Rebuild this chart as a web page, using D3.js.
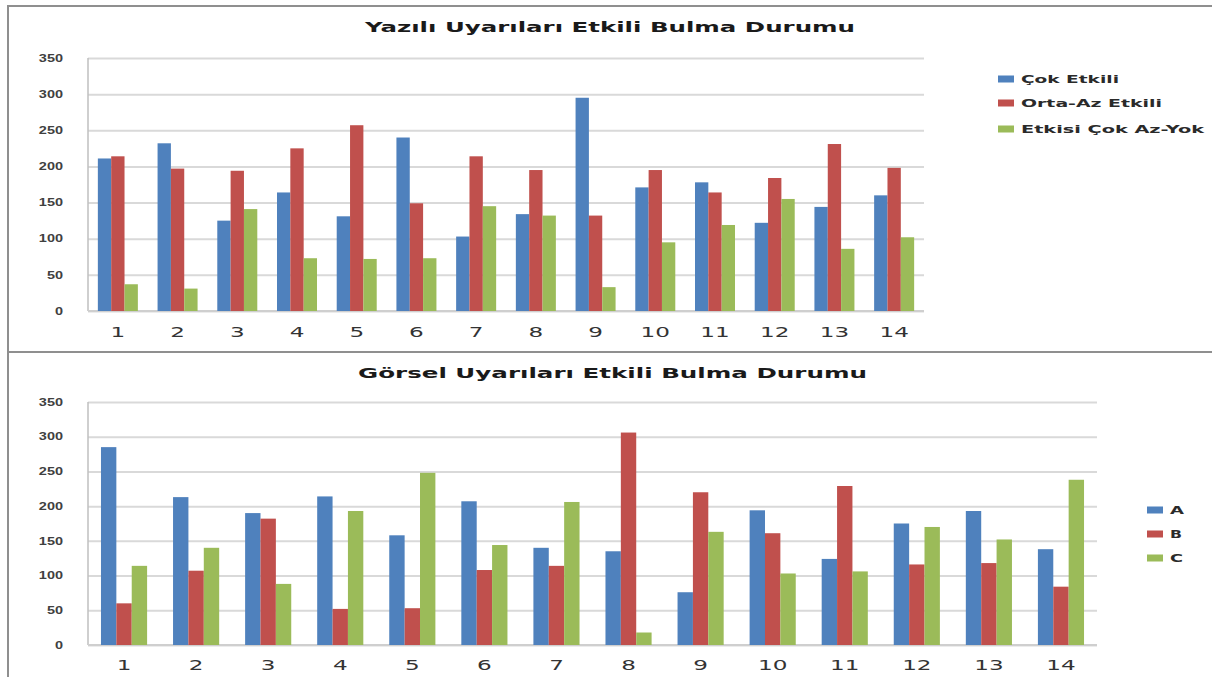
<!DOCTYPE html>
<html>
<head>
<meta charset="utf-8">
<script src="https://cdn.jsdelivr.net/npm/d3@7"></script>
<style>
body { margin: 0; background: #fff; }
svg { display: block; font-family: 'DejaVu Sans', Verdana, sans-serif; }
</style>
</head>
<body>
<svg width="1212" height="677"></svg>
<script>
// data
var categories = ['1', '2', '3', '4', '5', '6', '7', '8', '9', '10', '11', '12', '13', '14']
var yTicks = [0, 50, 100, 150, 200, 250, 300, 350]

var topTitle = 'Yazılı Uyarıları Etkili Bulma Durumu'
var topNames = ['Çok Etkili', 'Orta-Az Etkili', 'Etkisi Çok Az-Yok']
var cokEtkili = [211, 232, 125, 164, 131, 240, 103, 134, 295, 171, 178, 122, 144, 160]
var ortaAzEtkili = [214, 197, 194, 225, 257, 149, 214, 195, 132, 195, 164, 184, 231, 198]
var etkisiYok = [37, 31, 141, 73, 72, 73, 145, 132, 33, 95, 119, 155, 86, 102]

var bottomTitle = 'Görsel Uyarıları Etkili Bulma Durumu'
var bottomNames = ['A', 'B', 'C']
var seriesA = [285, 213, 190, 214, 158, 207, 140, 135, 76, 194, 124, 175, 193, 138]
var seriesB = [60, 107, 182, 52, 53, 108, 114, 306, 220, 161, 229, 116, 118, 84]
var seriesC = [114, 140, 88, 193, 248, 144, 206, 18, 163, 103, 106, 170, 152, 238]

var colors = ['#4f81bd', '#c0504d', '#9bbb59']

var svg = d3.select('svg')

// outer frame of the two charts
svg.append('path')
    .attr('d', 'M8,677V6H1212M8,352H1212')
    .attr('fill', 'none')
    .attr('stroke', '#8f8f8f')
    .attr('stroke-width', 2)

function drawPanel (opt) {
    var x = d3.scaleBand()
        .domain(categories)
        .range([opt.left, opt.right])
        .paddingInner(opt.pad)
        .paddingOuter(opt.pad / 2)
    var x1 = d3.scaleBand().domain([0, 1, 2]).range([0, x.bandwidth()])
    var y = d3.scaleLinear().domain([0, 350]).range([opt.bottom, opt.top])

    // grid + y labels (glyphs stretched sideways like the source picture)
    var yAxis = svg.append('g')
        .attr('transform', 'translate(' + opt.left + ',0)')
        .call(d3.axisLeft(y).tickValues(yTicks).tickSize(-(opt.right - opt.left)).tickPadding(25))
    yAxis.select('.domain').remove()
    yAxis.selectAll('.tick line').attr('stroke', '#d9d9d9').attr('stroke-width', 2)
    yAxis.selectAll('.tick text')
        .attr('x', 0)
        .attr('transform', 'translate(-25,0) scale(1.45,1)')
        .attr('fill', '#404040')
        .attr('font-weight', 'bold')
        .style('font-size', '10px')
        .attr('font-family', null)

    // axis lines
    svg.append('line')
        .attr('x1', opt.left).attr('x2', opt.left)
        .attr('y1', opt.top).attr('y2', opt.bottom)
        .attr('stroke', '#bfbfbf').attr('stroke-width', 1.5)
    svg.append('line')
        .attr('x1', opt.left).attr('x2', opt.right)
        .attr('y1', opt.bottom).attr('y2', opt.bottom)
        .attr('stroke', '#cfcfcf').attr('stroke-width', 2)

    // bars
    opt.series.forEach(function (values, i) {
        svg.append('g')
            .selectAll('rect')
            .data(values)
            .enter()
            .append('rect')
            .attr('x', function (d, j) { return x(categories[j]) + x1(i) })
            .attr('y', function (d) { return y(d) })
            .attr('width', x1.bandwidth())
            .attr('height', function (d) { return opt.bottom - y(d) })
            .attr('fill', colors[i])
    })

    // x labels
    svg.append('g')
        .selectAll('text')
        .data(categories)
        .enter()
        .append('text')
        .attr('transform', function (d) {
            return 'translate(' + (x(d) + x.bandwidth() / 2) + ',' + opt.labelY + ') scale(1.65,1)'
        })
        .attr('text-anchor', 'middle')
        .attr('fill', '#333')
        .style('font-size', '14px')
        .text(function (d) { return d })

    // title
    svg.append('text')
        .attr('x', opt.titleX)
        .attr('y', opt.titleY)
        .attr('textLength', opt.titleW)
        .attr('lengthAdjust', 'spacingAndGlyphs')
        .attr('font-weight', 'bold')
        .style('font-size', '14px')
        .attr('fill', '#1a1a1a')
        .text(opt.title)

    // legend
    var lg = svg.append('g')
        .selectAll('g')
        .data(opt.names)
        .enter()
        .append('g')
        .attr('transform', function (d, i) { return 'translate(' + opt.legX + ',' + opt.legY[i] + ')' })
    lg.append('rect')
        .attr('x', 0).attr('y', -3.5)
        .attr('width', 16).attr('height', 7)
        .attr('fill', function (d, i) { return colors[i] })
    lg.append('text')
        .attr('x', 23)
        .attr('y', 4)
        .attr('textLength', function (d, i) { return opt.legW[i] })
        .attr('lengthAdjust', 'spacingAndGlyphs')
        .attr('font-weight', 'bold')
        .style('font-size', '11px')
        .attr('fill', '#2a2a2a')
        .text(function (d) { return d })
}

drawPanel({
    series: [cokEtkili, ortaAzEtkili, etkisiYok],
    names: topNames,
    title: topTitle,
    left: 88, right: 924, top: 58, bottom: 311,
    pad: 0.33,
    labelY: 337,
    titleX: 365, titleY: 32, titleW: 490,
    legX: 998, legY: [79, 103, 129], legW: [98, 141, 183]
})

drawPanel({
    series: [seriesA, seriesB, seriesC],
    names: bottomNames,
    title: bottomTitle,
    left: 88, right: 1097, top: 402, bottom: 645,
    pad: 0.36,
    labelY: 670,
    titleX: 358, titleY: 378, titleW: 509,
    legX: 1147, legY: [510, 534, 558], legW: [14, 12, 13]
})
</script>
</body>
</html>
